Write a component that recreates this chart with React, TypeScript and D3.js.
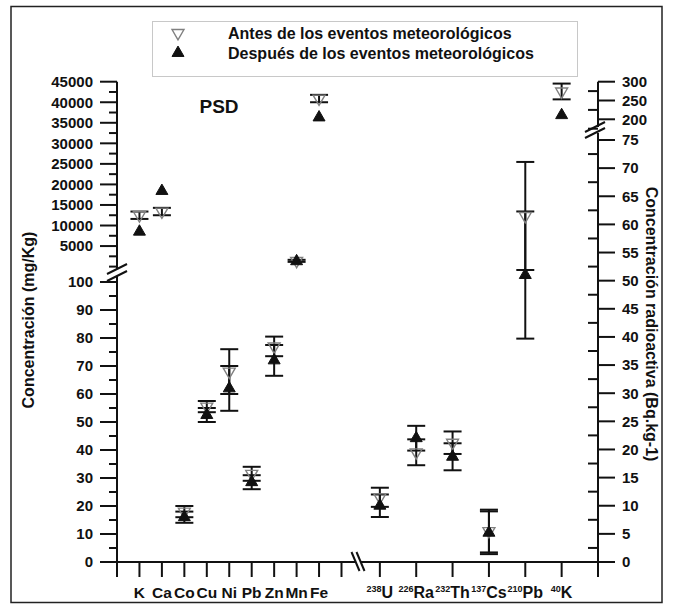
import React from "react";
import * as d3 from "d3";

// Metals (mg/Kg) - left axis
const metals = ["K", "Ca", "Co", "Cu", "Ni", "Pb", "Zn", "Mn", "Fe"];
const metalsBefore = [12500, 13400, 18, 55.5, 68, 31.5, 77, 1400, 40900];
const metalsBeforeErr = [900, 900, 2, 2, 8, 2.5, 3.5, 250, 900];
const metalsAfter = [8500, 18400, 16, 52.5, 62, 28.5, 72, 1300, 36300];
const metalsAfterErr = [0, 0, 2, 2.5, 8, 2.5, 5.5, 0, 0];

// Radionuclides (Bq.kg-1) - right axis
const isotopeMass = ["238", "226", "232", "137", "210", "40"];
const isotopeSymbol = ["U", "Ra", "Th", "Cs", "Pb", "K"];
const isotopesBefore = [11.5, 19.5, 21.2, 5.5, 61.5, 274];
const isotopesBeforeErr = [1.7, 2.3, 2, 3.8, 9.6, 21];
const isotopesAfter = [10, 22, 18.7, 5.2, 51, 211];
const isotopesAfterErr = [2, 2.2, 2.4, 3.8, 11.3, 0];

// tick labels
const leftLowTicks = [0, 10, 20, 30, 40, 50, 60, 70, 80, 90, 100];
const leftHighTicks = [5000, 10000, 15000, 20000, 25000, 30000, 35000, 40000, 45000];
const rightLowTicks = [0, 5, 10, 15, 20, 25, 30, 35, 40, 45, 50, 55, 60, 65, 70, 75];
const rightHighTicks = [200, 250, 300];

const legendLabels = ["Antes de los eventos meteorológicos", "Después de los eventos meteorológicos"];

const W = 673;
const H = 605;
const FONT = "'Liberation Sans', Arial, Helvetica, sans-serif";

// x: two segments with a break
const xL = d3.scaleLinear().domain([0, 10]).range([117, 341.5]);
const xR = d3.scaleLinear().domain([0, 7]).range([343.5, 598]);

// y: broken left and right axes
const yLlow = d3.scaleLinear().domain([0, 100]).range([562, 282]);
const yLhigh = d3.scaleLinear().domain([0, 45000]).range([266.6, 81.7]);
const yRlow = d3.scaleLinear().domain([0, 75]).range([562, 140]);
const yRhigh = d3.scaleLinear().domain([175, 300]).range([128.7, 81.7]);

const yLeft = (v: number) => (v > 100 ? yLhigh(v) : yLlow(v));
const yRight = (v: number) => (v > 75 ? yRhigh(v) : yRlow(v));

const triPath = d3.symbol(d3.symbolTriangle, 62)() as string;

const leftAxisX = xL(0);
const rightAxisX = xR(7);
const baseY = yLlow(0);

function ErrorBar({ x, y0, y1 }: { x: number; y0: number; y1: number }) {
  const cap = 9;
  return (
    <g stroke="#111" strokeWidth={2}>
      <line x1={x} x2={x} y1={y0} y2={y1} />
      <line x1={x - cap} x2={x + cap} y1={y0} y2={y0} />
      <line x1={x - cap} x2={x + cap} y1={y1} y2={y1} />
    </g>
  );
}

function Down({ x, y }: { x: number; y: number }) {
  return (
    <path d={triPath} transform={`translate(${x},${y}) rotate(180)`} fill="none" stroke="#808080" strokeWidth={1.4} />
  );
}

function Up({ x, y }: { x: number; y: number }) {
  return <path d={triPath} transform={`translate(${x},${y})`} fill="#111" stroke="#111" strokeWidth={1} />;
}

function Slash({ x, y, dx, dy }: { x: number; y: number; dx: number; dy: number }) {
  return <line x1={x - dx} y1={y + dy} x2={x + dx} y2={y - dy} stroke="#111" strokeWidth={2} />;
}

export default function App() {
  const leftLowMinor = d3.range(5, 100, 10);
  const leftHighMinor = d3.range(0, 45000, 2500).filter((v) => v % 5000 !== 0 || v === 0);
  const rightLowMinor = d3.range(2.5, 75, 5);
  const rightHighMinor = [175, 225, 275];

  const metalPoints = metals.map((m, i) => ({
    x: xL(i + 1),
    b: metalsBefore[i],
    be: metalsBeforeErr[i],
    a: metalsAfter[i],
    ae: metalsAfterErr[i],
  }));
  const isoPoints = isotopeSymbol.map((s, i) => ({
    x: xR(i + 1),
    b: isotopesBefore[i],
    be: isotopesBeforeErr[i],
    a: isotopesAfter[i],
    ae: isotopesAfterErr[i],
  }));

  return (
    <svg
      width={W}
      height={H}
      viewBox={`0 0 ${W} ${H}`}
      style={{ position: "absolute", left: 0, top: 0, background: "#fff" }}
      fontFamily={FONT}
      fontWeight="bold"
    >
      {/* outer frame */}
      <rect x={11} y={6.5} width={651} height={596} fill="#fff" stroke="#222" strokeWidth={1.5} />

      {/* legend */}
      <rect x={152.5} y={21.5} width={425} height={55} fill="#fff" stroke="#c8c8c8" strokeWidth={1} />
      <Down x={178} y={33} />
      <Up x={178} y={53} />
      {legendLabels.map((t, i) => (
        <text key={t} x={228} y={39 + i * 20} fontSize={16} fill="#111">
          {t}
        </text>
      ))}

      <text x={219} y={113} fontSize={19} textAnchor="middle" fill="#111">
        PSD
      </text>

      {/* left axis */}
      <g stroke="#111" strokeWidth={2}>
        <line x1={leftAxisX} x2={leftAxisX} y1={yLhigh(45000)} y2={269} />
        <line x1={leftAxisX} x2={leftAxisX} y1={276} y2={baseY + 15} />
        {leftLowTicks.map((v) => (
          <line key={"ll" + v} x1={leftAxisX - 17} x2={leftAxisX} y1={yLlow(v)} y2={yLlow(v)} />
        ))}
        {leftLowMinor.map((v) => (
          <line key={"lm" + v} x1={leftAxisX - 8} x2={leftAxisX} y1={yLlow(v)} y2={yLlow(v)} />
        ))}
        {leftHighTicks.map((v) => (
          <line key={"lh" + v} x1={leftAxisX - 17} x2={leftAxisX} y1={yLhigh(v)} y2={yLhigh(v)} />
        ))}
        {leftHighMinor.map((v) => (
          <line key={"lhm" + v} x1={leftAxisX - 8} x2={leftAxisX} y1={yLhigh(v)} y2={yLhigh(v)} />
        ))}
      </g>
      <Slash x={leftAxisX} y={269} dx={10} dy={5} />
      <Slash x={leftAxisX} y={276} dx={10} dy={5} />
      <g fontSize={15} textAnchor="end" fill="#111">
        {leftLowTicks.map((v) => (
          <text key={"tl" + v} x={93} y={yLlow(v) + 5.3}>
            {v}
          </text>
        ))}
        {leftHighTicks.map((v) => (
          <text key={"th" + v} x={93} y={yLhigh(v) + 5.3}>
            {v}
          </text>
        ))}
      </g>
      <text
        transform={`translate(34,320) rotate(-90)`}
        textAnchor="middle"
        fontSize={16}
        fill="#111"
      >
        Concentración (mg/Kg)
      </text>

      {/* right axis */}
      <g stroke="#111" strokeWidth={2}>
        <line x1={rightAxisX} x2={rightAxisX} y1={yRhigh(300)} y2={127} />
        <line x1={rightAxisX} x2={rightAxisX} y1={133} y2={baseY + 15} />
        {rightLowTicks.map((v) => (
          <line key={"rl" + v} x1={rightAxisX} x2={rightAxisX + 17} y1={yRlow(v)} y2={yRlow(v)} />
        ))}
        {rightLowMinor.map((v) => (
          <line key={"rm" + v} x1={rightAxisX - 10} x2={rightAxisX} y1={yRlow(v)} y2={yRlow(v)} />
        ))}
        {rightHighTicks.map((v) => (
          <line key={"rh" + v} x1={rightAxisX} x2={rightAxisX + 17} y1={yRhigh(v)} y2={yRhigh(v)} />
        ))}
        {rightHighMinor.map((v) => (
          <line key={"rhm" + v} x1={rightAxisX - 10} x2={rightAxisX} y1={yRhigh(v)} y2={yRhigh(v)} />
        ))}
      </g>
      <Slash x={rightAxisX - 3} y={127} dx={10} dy={5} />
      <Slash x={rightAxisX - 3} y={133} dx={10} dy={5} />
      <g fontSize={15} textAnchor="start" fill="#111">
        {rightLowTicks.map((v) => (
          <text key={"trl" + v} x={622} y={yRlow(v) + 5.3}>
            {v}
          </text>
        ))}
        {rightHighTicks.map((v) => (
          <text key={"trh" + v} x={622} y={yRhigh(v) + 5.3}>
            {v}
          </text>
        ))}
      </g>
      <text
        transform={`translate(646,324) rotate(90)`}
        textAnchor="middle"
        fontSize={16}
        fill="#111"
      >
        Concentración radioactiva (Bq.kg-1)
      </text>

      {/* x axis */}
      <g stroke="#111" strokeWidth={2}>
        <line x1={leftAxisX} x2={355.5} y1={baseY} y2={baseY} />
        <line x1={360.5} x2={rightAxisX} y1={baseY} y2={baseY} />
        {d3.range(1, 11).map((i) => (
          <line key={"xl" + i} x1={xL(i)} x2={xL(i)} y1={baseY} y2={baseY + 15} />
        ))}
        {d3.range(1, 7).map((i) => (
          <line key={"xr" + i} x1={xR(i)} x2={xR(i)} y1={baseY} y2={baseY + 15} />
        ))}
        <line x1={351.5} y1={552} x2={359.5} y2={571} />
        <line x1={356.5} y1={552} x2={364.5} y2={571} />
      </g>
      <g fontSize={15.5} textAnchor="middle" fill="#111">
        {metals.map((m, i) => (
          <text key={m} x={xL(i + 1)} y={598}>
            {m}
          </text>
        ))}
        {isotopeSymbol.map((s, i) => (
          <text key={s + i} x={xR(i + 1)} y={598}>
            <tspan fontSize={9} dy={-6}>
              {isotopeMass[i]}
            </tspan>
            <tspan fontSize={16} dy={6}>
              {s}
            </tspan>
          </text>
        ))}
      </g>

      {/* error bars */}
      {metalPoints.map((p, i) => (
        <g key={"me" + i}>
          {p.be > 0 && <ErrorBar x={p.x} y0={yLeft(p.b + p.be)} y1={yLeft(p.b - p.be)} />}
          {p.ae > 0 && <ErrorBar x={p.x} y0={yLeft(p.a + p.ae)} y1={yLeft(p.a - p.ae)} />}
        </g>
      ))}
      {isoPoints.map((p, i) => (
        <g key={"ie" + i}>
          {p.be > 0 && <ErrorBar x={p.x} y0={yRight(p.b + p.be)} y1={yRight(p.b - p.be)} />}
          {p.ae > 0 && <ErrorBar x={p.x} y0={yRight(p.a + p.ae)} y1={yRight(p.a - p.ae)} />}
        </g>
      ))}

      {/* markers */}
      {metalPoints.map((p, i) => (
        <g key={"mm" + i}>
          <Down x={p.x} y={yLeft(p.b)} />
          <Up x={p.x} y={yLeft(p.a)} />
        </g>
      ))}
      {isoPoints.map((p, i) => (
        <g key={"im" + i}>
          <Down x={p.x} y={yRight(p.b)} />
          <Up x={p.x} y={yRight(p.a)} />
        </g>
      ))}
    </svg>
  );
}
